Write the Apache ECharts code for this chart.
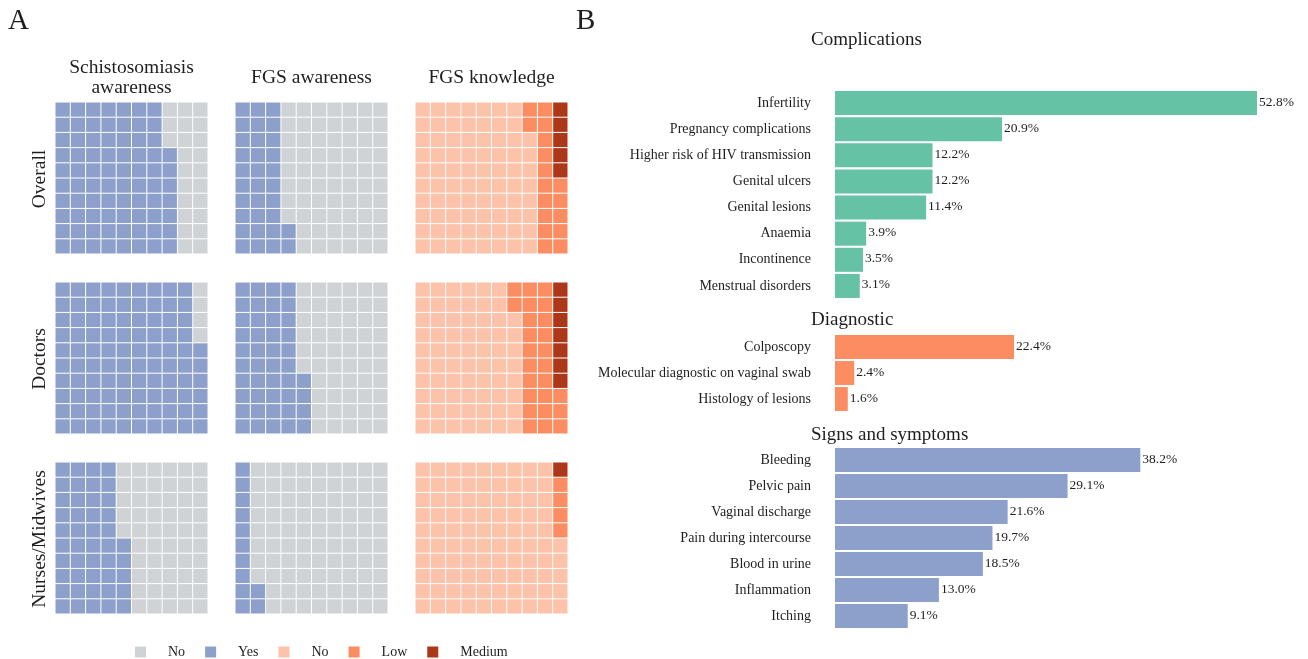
<!DOCTYPE html>
<html>
<head>
<meta charset="utf-8">
<title>FGS awareness and knowledge</title>
<script src="https://cdn.jsdelivr.net/npm/echarts@6/dist/echarts.min.js"></script>
<style>
  html, body { margin: 0; padding: 0; background: #fff; }
  #chart { width: 1308px; height: 659px; }
</style>
</head>
<body>
<div id="chart"></div>
<script>
// ---- Panel A: waffle data (counts out of 100 cells) ----
const waffleRows = ['Overall', 'Doctors', 'Nurses/Midwives'];
const waffleCols = ['Schistosomiasis\nawareness', 'FGS awareness', 'FGS knowledge'];
const schistoYes = [77, 96, 45];
const fgsAwareYes = [32, 44, 12];
const knowNo = [78, 68, 95];
const knowLow = [17, 25, 4];
const knowMedium = [5, 7, 1];

// ---- Panel B: reported items (%) ----
const complicationCats = ['Infertility', 'Pregnancy complications', 'Higher risk of HIV transmission',
  'Genital ulcers', 'Genital lesions', 'Anaemia', 'Incontinence', 'Menstrual disorders'];
const complicationVals = [52.8, 20.9, 12.2, 12.2, 11.4, 3.9, 3.5, 3.1];
const diagnosticCats = ['Colposcopy', 'Molecular diagnostic on vaginal swab', 'Histology of lesions'];
const diagnosticVals = [22.4, 2.4, 1.6];
const signsCats = ['Bleeding', 'Pelvic pain', 'Vaginal discharge', 'Pain during intercourse',
  'Blood in urine', 'Inflammation', 'Itching'];
const signsVals = [38.2, 29.1, 21.6, 19.7, 18.5, 13.0, 9.1];

const FONT = '"Liberation Serif", "DejaVu Serif", serif';
const TXT = '#1e1e1e';
const COLORS = {
  awareNo: '#d0d3d6', awareYes: '#8da0cb',
  knowNo: '#fcc3aa', knowLow: '#fc8d62', knowMedium: '#ad3719'
};
const LEGEND_TEXT = { awareNo: 'No', awareYes: 'Yes', knowNo: 'No', knowLow: 'Low', knowMedium: 'Medium' };

const colLeft = [55, 235, 415];
const rowTop = [102, 282, 462];
const cellW = 153, cellH = 152;

// Fill a 10x10 waffle column by column, bottom to top, in order of the given parts.
function waffleCells(parts) {
  const out = {};
  let k = 0;
  parts.forEach(([key, n]) => {
    out[key] = [];
    for (let i = 0; i < n; i++, k++) {
      out[key].push([Math.floor(k / 10), k % 10]);
    }
  });
  return out;
}

function renderCell(params, api) {
  const tl = api.coord([api.value(0), api.value(1) + 1]);
  const sz = api.size([1, 1]);
  return {
    type: 'rect',
    shape: { x: tl[0] + 0.5, y: tl[1] + 0.5, width: sz[0] - 1, height: sz[1] - 1 },
    style: { fill: api.visual('color') }
  };
}

const grid = [], xAxis = [], yAxis = [], series = [], graphic = [];

for (let r = 0; r < 3; r++) {
  for (let c = 0; c < 3; c++) {
    const gi = grid.length;
    grid.push({ left: colLeft[c], top: rowTop[r], width: cellW, height: cellH });
    xAxis.push({ type: 'value', gridIndex: gi, min: 0, max: 10, show: false });
    yAxis.push({ type: 'value', gridIndex: gi, min: 0, max: 10, show: false });
    let parts;
    if (c === 0) parts = [['awareYes', schistoYes[r]], ['awareNo', 100 - schistoYes[r]]];
    else if (c === 1) parts = [['awareYes', fgsAwareYes[r]], ['awareNo', 100 - fgsAwareYes[r]]];
    else parts = [['knowNo', knowNo[r]], ['knowLow', knowLow[r]], ['knowMedium', knowMedium[r]]];
    const cells = waffleCells(parts);
    Object.keys(cells).forEach(key => {
      series.push({
        type: 'custom', name: key, xAxisIndex: gi, yAxisIndex: gi,
        itemStyle: { color: COLORS[key] },
        renderItem: renderCell, data: cells[key], silent: true
      });
    });
  }
}

// Column titles and row labels for the waffles
waffleCols.forEach((t, c) => {
  graphic.push({
    type: 'text', x: colLeft[c] + cellW / 2, y: 78,
    style: { text: t, font: '19.5px ' + FONT, fill: TXT, align: 'center', verticalAlign: 'middle', lineHeight: 20 }
  });
});
waffleRows.forEach((t, r) => {
  graphic.push({
    type: 'text', x: 40, y: rowTop[r] + cellH / 2 + 1, rotation: Math.PI / 2,
    style: { text: t, font: '19.5px ' + FONT, fill: TXT, align: 'center', verticalAlign: 'middle' }
  });
});
graphic.push({ type: 'text', x: 8, y: 7, style: { text: 'A', font: '29px ' + FONT, fill: TXT } });
graphic.push({ type: 'text', x: 576, y: 7, style: { text: 'B', font: '29px ' + FONT, fill: TXT } });

// ---- Panel B: three horizontal bar blocks ----
const barBlocks = [
  { title: 'Complications', titleY: 40, cats: complicationCats, vals: complicationVals, color: '#66c2a5', top: 90, height: 209 },
  { title: 'Diagnostic', titleY: 320, cats: diagnosticCats, vals: diagnosticVals, color: '#fc8d62', top: 334, height: 78 },
  { title: 'Signs and symptoms', titleY: 435, cats: signsCats, vals: signsVals, color: '#8da0cb', top: 447, height: 182 }
];
const barMax = 55;
const barLeft = 835;
const barWidth = 422 / 52.8 * barMax;

barBlocks.forEach(b => {
  const gi = grid.length;
  grid.push({ left: barLeft, top: b.top, width: barWidth, height: b.height });
  xAxis.push({ type: 'value', gridIndex: gi, min: 0, max: barMax, show: false });
  yAxis.push({
    type: 'category', gridIndex: gi, data: b.cats, inverse: true,
    axisLine: { show: false }, axisTick: { show: false },
    axisLabel: { margin: 24, fontFamily: FONT, fontSize: 14, color: TXT }
  });
  series.push({
    type: 'bar', xAxisIndex: gi, yAxisIndex: gi, data: b.vals, barCategoryGap: '8%',
    itemStyle: { color: b.color }, silent: true,
    label: {
      show: true, position: 'right', distance: 2, offset: [0, -1],
      fontFamily: FONT, fontSize: 13.5, color: TXT,
      formatter: p => p.value.toFixed(1) + '%'
    }
  });
  graphic.push({
    type: 'text', x: 811, y: b.titleY,
    style: { text: b.title, font: '19px ' + FONT, fill: TXT, verticalAlign: 'middle' }
  });
});

const chart = echarts.init(document.getElementById('chart'), null, { renderer: 'canvas' });
chart.setOption({
  backgroundColor: '#fff',
  animation: false,
  grid, xAxis, yAxis, series, graphic,
  legend: {
    data: ['awareNo', 'awareYes', 'knowNo', 'knowLow', 'knowMedium'],
    left: 130, top: 640, icon: 'rect', itemWidth: 11, itemHeight: 11, itemGap: 20,
    formatter: n => LEGEND_TEXT[n],
    textStyle: { fontFamily: FONT, fontSize: 14, color: TXT, padding: [0, 0, 0, 17] },
    selectedMode: false
  }
});
</script>
</body>
</html>
